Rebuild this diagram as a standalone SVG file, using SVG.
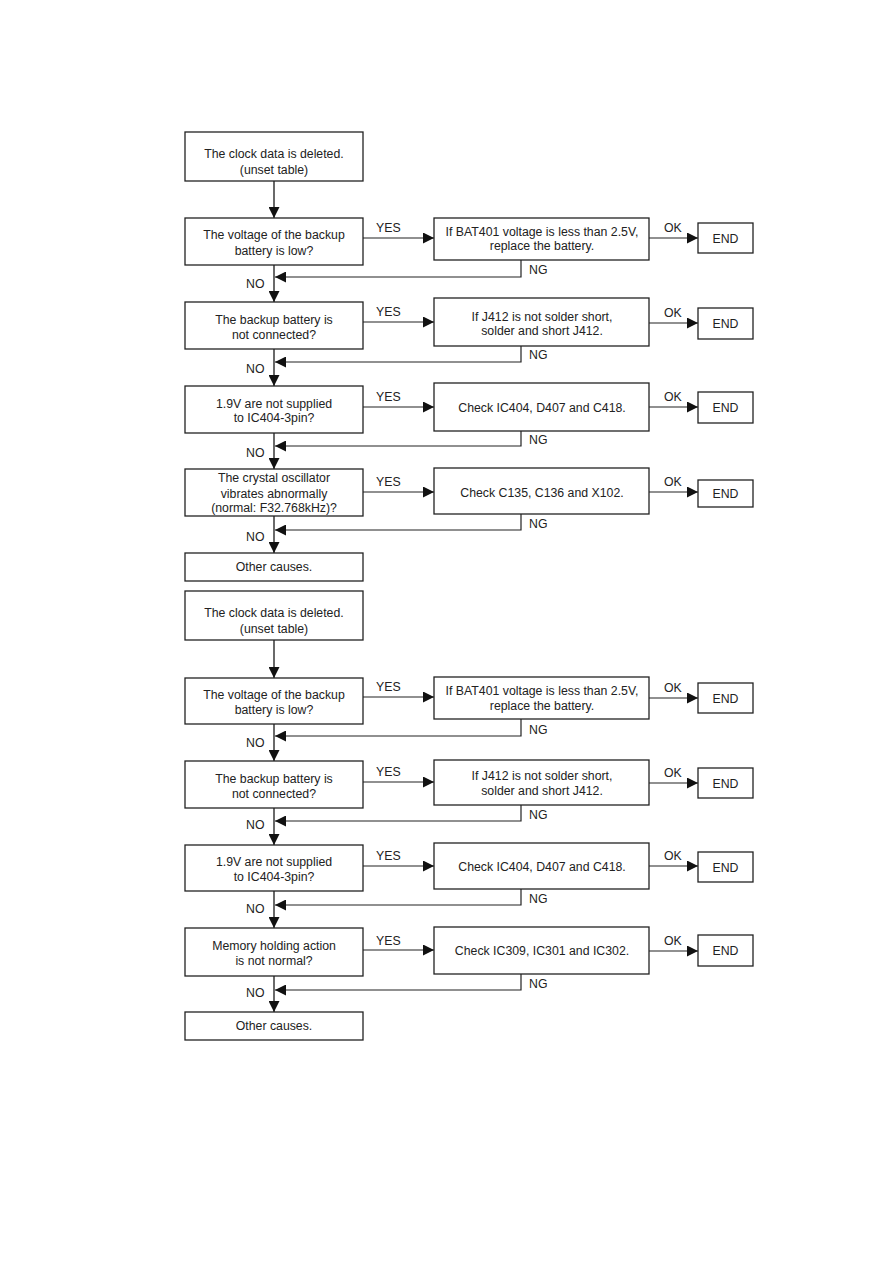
<svg xmlns="http://www.w3.org/2000/svg" width="893" height="1263" viewBox="0 0 893 1263">
<defs>
<marker id="ah" markerUnits="userSpaceOnUse" markerWidth="11" markerHeight="11" refX="10" refY="5" orient="auto" viewBox="0 0 10 10">
<path d="M0,0 L10,5 L0,10 z" fill="#111"/>
</marker>
<style>
.box{fill:#fff;stroke:#222;stroke-width:1.3}
.t{font-family:"Liberation Sans",Arial,sans-serif;font-size:12.3px;fill:#222;text-anchor:middle}
.l{font-family:"Liberation Sans",Arial,sans-serif;font-size:12.3px;fill:#222}
.c{fill:none;stroke:#222;stroke-width:1.2}
.tr{fill:none;stroke:#444;stroke-width:1.6}
</style>
</defs>
<rect width="893" height="1263" fill="#fff"/>

<g id="connectors">
<!-- Section 1 trunk -->
<path class="tr" d="M274,181 V218" marker-end="url(#ah)"/>
<path class="tr" d="M274,265 V302" marker-end="url(#ah)"/>
<path class="tr" d="M274,349 V386" marker-end="url(#ah)"/>
<path class="tr" d="M274,433 V469" marker-end="url(#ah)"/>
<path class="tr" d="M274,516 V553" marker-end="url(#ah)"/>
<!-- Section 1 YES -->
<path class="c" d="M363,238 H434" marker-end="url(#ah)"/>
<path class="c" d="M363,322 H434" marker-end="url(#ah)"/>
<path class="c" d="M363,407 H434" marker-end="url(#ah)"/>
<path class="c" d="M363,492 H434" marker-end="url(#ah)"/>
<!-- Section 1 OK -->
<path class="c" d="M649,238 H698" marker-end="url(#ah)"/>
<path class="c" d="M649,323 H698" marker-end="url(#ah)"/>
<path class="c" d="M649,407 H698" marker-end="url(#ah)"/>
<path class="c" d="M649,492 H698" marker-end="url(#ah)"/>
<!-- Section 1 NG -->
<path class="c" d="M521,260 V277 H275" marker-end="url(#ah)"/>
<path class="c" d="M521,346 V362 H275" marker-end="url(#ah)"/>
<path class="c" d="M521,431 V446 H275" marker-end="url(#ah)"/>
<path class="c" d="M521,514 V530 H275" marker-end="url(#ah)"/>

<!-- Section 2 trunk -->
<path class="tr" d="M274,640 V678" marker-end="url(#ah)"/>
<path class="tr" d="M274,724 V761" marker-end="url(#ah)"/>
<path class="tr" d="M274,808 V845" marker-end="url(#ah)"/>
<path class="tr" d="M274,891 V928" marker-end="url(#ah)"/>
<path class="tr" d="M274,976 V1012" marker-end="url(#ah)"/>
<!-- Section 2 YES -->
<path class="c" d="M363,697 H434" marker-end="url(#ah)"/>
<path class="c" d="M363,782 H434" marker-end="url(#ah)"/>
<path class="c" d="M363,866 H434" marker-end="url(#ah)"/>
<path class="c" d="M363,950 H434" marker-end="url(#ah)"/>
<!-- Section 2 OK -->
<path class="c" d="M649,698 H698" marker-end="url(#ah)"/>
<path class="c" d="M649,783 H698" marker-end="url(#ah)"/>
<path class="c" d="M649,866 H698" marker-end="url(#ah)"/>
<path class="c" d="M649,951 H698" marker-end="url(#ah)"/>
<!-- Section 2 NG -->
<path class="c" d="M521,719 V736 H275" marker-end="url(#ah)"/>
<path class="c" d="M521,805 V821 H275" marker-end="url(#ah)"/>
<path class="c" d="M521,889 V905 H275" marker-end="url(#ah)"/>
<path class="c" d="M521,974 V990 H275" marker-end="url(#ah)"/>
</g>

<g id="labels">
<text class="l" x="376" y="232">YES</text>
<text class="l" x="376" y="316">YES</text>
<text class="l" x="376" y="401">YES</text>
<text class="l" x="376" y="486">YES</text>
<text class="l" x="664" y="232">OK</text>
<text class="l" x="664" y="317">OK</text>
<text class="l" x="664" y="401">OK</text>
<text class="l" x="664" y="486">OK</text>
<text class="l" x="529" y="274">NG</text>
<text class="l" x="529" y="359">NG</text>
<text class="l" x="529" y="444">NG</text>
<text class="l" x="529" y="528">NG</text>
<text class="l" x="246" y="288">NO</text>
<text class="l" x="246" y="373">NO</text>
<text class="l" x="246" y="457">NO</text>
<text class="l" x="246" y="541">NO</text>

<text class="l" x="376" y="691">YES</text>
<text class="l" x="376" y="776">YES</text>
<text class="l" x="376" y="860">YES</text>
<text class="l" x="376" y="945">YES</text>
<text class="l" x="664" y="692">OK</text>
<text class="l" x="664" y="777">OK</text>
<text class="l" x="664" y="860">OK</text>
<text class="l" x="664" y="945">OK</text>
<text class="l" x="529" y="734">NG</text>
<text class="l" x="529" y="819">NG</text>
<text class="l" x="529" y="903">NG</text>
<text class="l" x="529" y="988">NG</text>
<text class="l" x="246" y="747">NO</text>
<text class="l" x="246" y="829">NO</text>
<text class="l" x="246" y="913">NO</text>
<text class="l" x="246" y="997">NO</text>
</g>

<!-- Section 1 nodes -->
<g id="s1-start"><rect class="box" x="185" y="132" width="178" height="49"/>
<text class="t" x="274" y="158">The clock data is deleted.</text><text class="t" x="274" y="174">(unset table)</text></g>
<g id="s1-q1"><rect class="box" x="185" y="218" width="178" height="47"/>
<text class="t" x="274" y="239">The voltage of the backup</text><text class="t" x="274" y="254.5">battery is low?</text></g>
<g id="s1-a1"><rect class="box" x="434" y="218" width="215" height="42"/>
<text class="t" x="542" y="236">If BAT401 voltage is less than 2.5V,</text><text class="t" x="542" y="250">replace the battery.</text></g>
<g id="s1-end1"><rect class="box" x="698" y="223" width="55" height="30"/><text class="t" x="725.5" y="242.5">END</text></g>

<g id="s1-q2"><rect class="box" x="185" y="302" width="178" height="47"/>
<text class="t" x="274" y="324">The backup battery is</text><text class="t" x="274" y="338.5">not connected?</text></g>
<g id="s1-a2"><rect class="box" x="434" y="298" width="215" height="48"/>
<text class="t" x="542" y="321">If J412 is not solder short,</text><text class="t" x="542" y="335">solder and short J412.</text></g>
<g id="s1-end2"><rect class="box" x="698" y="308" width="55" height="31"/><text class="t" x="725.5" y="328">END</text></g>

<g id="s1-q3"><rect class="box" x="185" y="386" width="178" height="47"/>
<text class="t" x="274" y="408">1.9V are not supplied</text><text class="t" x="274" y="421.5">to IC404-3pin?</text></g>
<g id="s1-a3"><rect class="box" x="434" y="383" width="215" height="48"/>
<text class="t" x="542" y="411.5">Check IC404, D407 and C418.</text></g>
<g id="s1-end3"><rect class="box" x="698" y="392" width="55" height="31"/><text class="t" x="725.5" y="412">END</text></g>

<g id="s1-q4"><rect class="box" x="185" y="469" width="178" height="47"/>
<text class="t" x="274" y="482">The crystal oscillator</text><text class="t" x="274" y="497.5">vibrates abnormally</text><text class="t" x="274" y="512">(normal: F32.768kHz)?</text></g>
<g id="s1-a4"><rect class="box" x="434" y="468" width="215" height="46"/>
<text class="t" x="542" y="496.5">Check C135, C136 and X102.</text></g>
<g id="s1-end4"><rect class="box" x="698" y="480" width="55" height="27"/><text class="t" x="725.5" y="498">END</text></g>

<g id="s1-other"><rect class="box" x="185" y="553" width="178" height="28"/>
<text class="t" x="274" y="571">Other causes.</text></g>

<!-- Section 2 nodes -->
<g id="s2-start"><rect class="box" x="185" y="591" width="178" height="49"/>
<text class="t" x="274" y="617">The clock data is deleted.</text><text class="t" x="274" y="633">(unset table)</text></g>
<g id="s2-q1"><rect class="box" x="185" y="678" width="178" height="46"/>
<text class="t" x="274" y="699">The voltage of the backup</text><text class="t" x="274" y="714">battery is low?</text></g>
<g id="s2-a1"><rect class="box" x="434" y="677" width="215" height="42"/>
<text class="t" x="542" y="695">If BAT401 voltage is less than 2.5V,</text><text class="t" x="542" y="709.5">replace the battery.</text></g>
<g id="s2-end1"><rect class="box" x="698" y="683" width="55" height="30"/><text class="t" x="725.5" y="702.5">END</text></g>

<g id="s2-q2"><rect class="box" x="185" y="761" width="178" height="47"/>
<text class="t" x="274" y="783">The backup battery is</text><text class="t" x="274" y="797.5">not connected?</text></g>
<g id="s2-a2"><rect class="box" x="434" y="760" width="215" height="45"/>
<text class="t" x="542" y="780">If J412 is not solder short,</text><text class="t" x="542" y="794.5">solder and short J412.</text></g>
<g id="s2-end2"><rect class="box" x="698" y="768" width="55" height="30"/><text class="t" x="725.5" y="787.5">END</text></g>

<g id="s2-q3"><rect class="box" x="185" y="845" width="178" height="46"/>
<text class="t" x="274" y="866">1.9V are not supplied</text><text class="t" x="274" y="880.5">to IC404-3pin?</text></g>
<g id="s2-a3"><rect class="box" x="434" y="843" width="215" height="46"/>
<text class="t" x="542" y="870.5">Check IC404, D407 and C418.</text></g>
<g id="s2-end3"><rect class="box" x="698" y="852" width="55" height="30"/><text class="t" x="725.5" y="871.5">END</text></g>

<g id="s2-q4"><rect class="box" x="185" y="928" width="178" height="48"/>
<text class="t" x="274" y="949.5">Memory holding action</text><text class="t" x="274" y="964.5">is not normal?</text></g>
<g id="s2-a4"><rect class="box" x="434" y="927" width="215" height="47"/>
<text class="t" x="542" y="955">Check IC309, IC301 and IC302.</text></g>
<g id="s2-end4"><rect class="box" x="698" y="935" width="55" height="31"/><text class="t" x="725.5" y="955">END</text></g>

<g id="s2-other"><rect class="box" x="185" y="1012" width="178" height="28"/>
<text class="t" x="274" y="1030">Other causes.</text></g>
</svg>
